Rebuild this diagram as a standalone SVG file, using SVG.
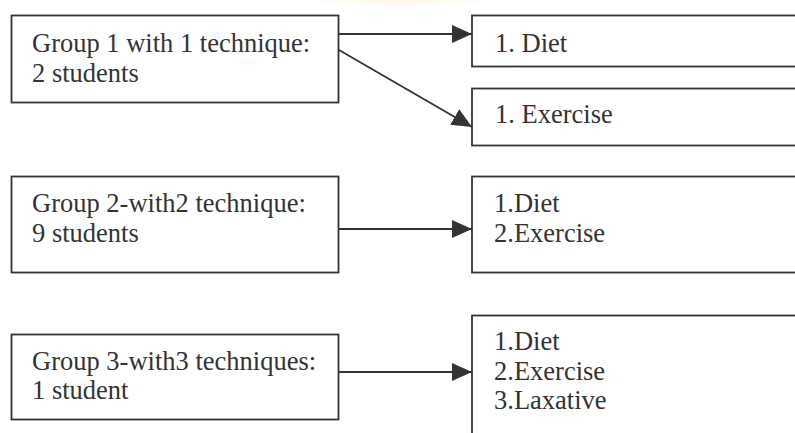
<svg xmlns="http://www.w3.org/2000/svg" width="795" height="433" viewBox="0 0 795 433">
  <defs>
    <radialGradient id="glow" cx="0.5" cy="0.5" r="0.5">
      <stop offset="0" stop-color="#fbe3a0" stop-opacity="0.55"/>
      <stop offset="1" stop-color="#fbe3a0" stop-opacity="0"/>
    </radialGradient>
    <marker id="arrow" markerUnits="userSpaceOnUse" markerWidth="22" markerHeight="20" refX="20" refY="9" orient="auto">
      <path d="M0,0 L20,9 L0,18 Z" fill="#333"/>
    </marker>
  </defs>
  <style>
    .box { fill: #fff; stroke: #333; stroke-width: 1.8; }
    .lbl { font-family: "Liberation Serif", "Times New Roman", serif; font-size: 26.5px; fill: #333; }
    .conn { stroke: #333; stroke-width: 1.8; fill: none; }
  </style>
  <rect width="795" height="433" fill="#fff"/>
  <ellipse cx="400" cy="-4" rx="110" ry="10" fill="url(#glow)"/>

  <g id="group1">
    <rect class="box" x="11.5" y="15.5" width="327" height="87"/>
    <text class="lbl" x="32" y="52">Group 1 with 1 technique:</text>
    <text class="lbl" x="32" y="82">2 students</text>
  </g>
  <g id="g1-diet">
    <rect class="box" x="472" y="15.5" width="340" height="51"/>
    <text class="lbl" x="495" y="52">1. Diet</text>
  </g>
  <g id="g1-exercise">
    <rect class="box" x="472" y="88.5" width="340" height="57"/>
    <text class="lbl" x="495" y="123">1. Exercise</text>
  </g>

  <g id="group2">
    <rect class="box" x="11.5" y="176.5" width="327" height="96"/>
    <text class="lbl" x="32" y="212">Group 2-with2 technique:</text>
    <text class="lbl" x="32" y="242">9 students</text>
  </g>
  <g id="g2-techniques">
    <rect class="box" x="472" y="176.5" width="340" height="96"/>
    <text class="lbl" x="494" y="212">1.Diet</text>
    <text class="lbl" x="494" y="242">2.Exercise</text>
  </g>

  <g id="group3">
    <rect class="box" x="11.5" y="334.5" width="327" height="85"/>
    <text class="lbl" x="32" y="370">Group 3-with3 techniques:</text>
    <text class="lbl" x="32" y="399">1 student</text>
  </g>
  <g id="g3-techniques">
    <rect class="box" x="472" y="315.5" width="340" height="140"/>
    <text class="lbl" x="494" y="350">1.Diet</text>
    <text class="lbl" x="494" y="380">2.Exercise</text>
    <text class="lbl" x="494" y="409">3.Laxative</text>
  </g>

  <g id="connectors">
    <line class="conn" x1="339" y1="34" x2="472" y2="34" marker-end="url(#arrow)"/>
    <line class="conn" x1="339" y1="50" x2="472" y2="127" marker-end="url(#arrow)"/>
    <line class="conn" x1="339" y1="229" x2="472" y2="229" marker-end="url(#arrow)"/>
    <line class="conn" x1="339" y1="372" x2="472" y2="372" marker-end="url(#arrow)"/>
  </g>
</svg>
